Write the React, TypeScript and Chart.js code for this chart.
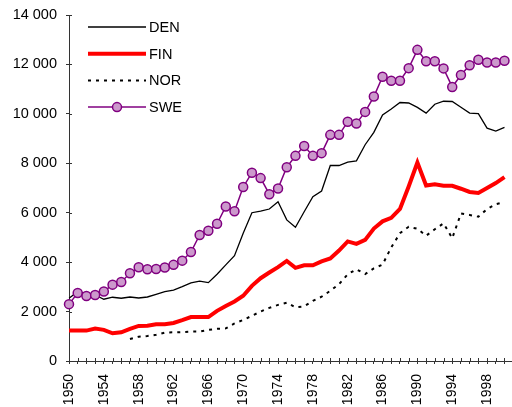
import React, { useEffect, useRef } from 'react';
import { Chart, registerables } from 'chart.js';

Chart.register(...registerables);
Chart.defaults.font.family = '"Liberation Sans", Arial, sans-serif';

const years = [
  '1950', '1951', '1952', '1953', '1954', '1955', '1956', '1957', '1958', '1959',
  '1960', '1961', '1962', '1963', '1964', '1965', '1966', '1967', '1968', '1969',
  '1970', '1971', '1972', '1973', '1974', '1975', '1976', '1977', '1978', '1979',
  '1980', '1981', '1982', '1983', '1984', '1985', '1986', '1987', '1988', '1989',
  '1990', '1991', '1992', '1993', '1994', '1995', '1996', '1997', '1998', '1999',
  '2000', '2001',
];

const DEN = [
  2540, 2800, 2740, 2670, 2500, 2580, 2540, 2590, 2550, 2590,
  2700, 2810, 2870, 3010, 3160, 3230, 3170, 3510, 3890, 4260,
  5170, 6000, 6060, 6150, 6440, 5710, 5410, 6040, 6650, 6880,
  7910, 7910, 8050, 8100, 8750, 9250, 9960, 10200, 10460, 10440,
  10260, 10030, 10390, 10510, 10500, 10270, 10030, 10010, 9420, 9300,
  9450,
];

const FIN = [
  1230, 1230, 1230, 1310, 1260, 1120, 1160, 1300, 1420, 1430,
  1490, 1490, 1540, 1650, 1780, 1780, 1780, 2030, 2230, 2410,
  2640, 3040, 3350, 3580, 3800, 4050, 3770, 3870, 3870, 4030,
  4150, 4470, 4840, 4740, 4900, 5360, 5650, 5790, 6150, 7060,
  8030, 7100, 7150, 7090, 7090, 6970, 6840, 6800, 7000, 7200,
  7440,
];

const NOR = [
  null, null, null, null, null, null, null, 890, 985, 1010,
  1060, 1150, 1160, 1170, 1190, 1190, 1260, 1300, 1320, 1520,
  1660, 1830, 2000, 2150, 2270, 2360, 2170, 2210, 2430, 2600,
  2840, 3110, 3510, 3710, 3520, 3750, 3900, 4600, 5170, 5430,
  5350, 5070, 5330, 5570, 4970, 5970, 5910, 5840, 6150, 6340,
  6430,
];

const SWE = [
  2300, 2750, 2630, 2670, 2810, 3090, 3200, 3550, 3790, 3710,
  3720, 3780, 3890, 4060, 4410, 5100, 5270, 5550, 6250, 6060,
  7040, 7620, 7400, 6750, 6980, 7840, 8300, 8700, 8300, 8410,
  9150, 9150, 9680, 9610, 10080, 10700, 11500, 11340, 11340, 11850,
  12590, 12130, 12130, 11840, 11090, 11570, 11970, 12190, 12080, 12080,
  12150,
];

const seriesNames = ['DEN', 'FIN', 'NOR', 'SWE'];

const AXIS = '#333333';

const fmt = (v: number) => String(v).replace(/\B(?=(\d{3})+(?!\d))/g, ' ');

const crossTicks = {
  id: 'crossTicks',
  afterDraw(chart: any) {
    const ctx = chart.ctx;
    const { left, bottom } = chart.chartArea;
    const xs = chart.scales.x;
    const ys = chart.scales.y;
    ctx.save();
    ctx.strokeStyle = AXIS;
    ctx.lineWidth = 1;
    ctx.beginPath();
    xs.ticks.forEach((_t: any, i: number) => {
      const px = Math.round(xs.getPixelForTick(i)) + 0.5;
      ctx.moveTo(px, bottom);
      ctx.lineTo(px, bottom - 3);
    });
    ys.ticks.forEach((_t: any, i: number) => {
      const py = Math.round(ys.getPixelForTick(i)) + 0.5;
      ctx.moveTo(left, py);
      ctx.lineTo(left + 3, py);
    });
    ctx.stroke();
    ctx.restore();
  },
};

const insideLegend = {
  id: 'insideLegend',
  afterDraw(chart: any) {
    const ctx = chart.ctx;
    const { left, top } = chart.chartArea;
    const x0 = left + 19;
    const x1 = left + 77;
    const tx = left + 80;
    const y0 = top + 12;
    const dy = 26.7;
    chart.data.datasets.forEach((ds: any, i: number) => {
      const y = y0 + i * dy;
      ctx.save();
      ctx.strokeStyle = ds.borderColor;
      ctx.lineWidth = ds.borderWidth;
      ctx.setLineDash(ds.borderDash || []);
      ctx.beginPath();
      ctx.moveTo(x0, y);
      ctx.lineTo(x1, y);
      ctx.stroke();
      if (ds.pointRadius > 0) {
        ctx.setLineDash([]);
        ctx.beginPath();
        ctx.arc((x0 + x1) / 2, y, ds.pointRadius, 0, Math.PI * 2);
        ctx.fillStyle = ds.pointBackgroundColor;
        ctx.fill();
        ctx.lineWidth = ds.pointBorderWidth;
        ctx.strokeStyle = ds.pointBorderColor;
        ctx.stroke();
      }
      ctx.fillStyle = '#000';
      ctx.font = '14.5px "Liberation Sans", Arial, sans-serif';
      ctx.textBaseline = 'middle';
      ctx.textAlign = 'left';
      ctx.fillText(ds.label, tx, y + 1);
      ctx.restore();
    });
  },
};

export default function App() {
  const ref = useRef<HTMLCanvasElement>(null);

  useEffect(() => {
    if (!ref.current) return;
    const chart = new Chart(ref.current, {
      type: 'line',
      data: {
        labels: years,
        datasets: [
          {
            label: seriesNames[0],
            data: DEN,
            borderColor: '#000000',
            backgroundColor: '#000000',
            borderWidth: 1.3,
            pointRadius: 0,
            tension: 0,
            order: 2,
          },
          {
            label: seriesNames[1],
            data: FIN,
            borderColor: '#ff0000',
            backgroundColor: '#ff0000',
            borderWidth: 4,
            pointRadius: 0,
            tension: 0,
            order: 1,
          },
          {
            label: seriesNames[2],
            data: NOR,
            borderColor: '#000000',
            backgroundColor: '#000000',
            borderWidth: 2,
            borderDash: [3, 5],
            pointRadius: 0,
            tension: 0,
            order: 3,
          },
          {
            label: seriesNames[3],
            data: SWE,
            borderColor: '#800080',
            backgroundColor: '#cc99cc',
            borderWidth: 1.5,
            pointRadius: 4.5,
            pointBackgroundColor: '#cc99cc',
            pointBorderColor: '#800080',
            pointBorderWidth: 1.5,
            tension: 0,
            order: 0,
          },
        ] as any,
      },
      options: {
        animation: false,
        responsive: false,
        layout: { padding: { top: 15, right: 21, left: 0, bottom: 0 } },
        plugins: { legend: { display: false }, tooltip: { enabled: false } },
        scales: {
          x: {
            type: 'category',
            offset: false,
            grid: { drawOnChartArea: false, tickLength: 3, color: AXIS },
            border: { color: AXIS },
            ticks: {
              autoSkip: false,
              maxRotation: 90,
              minRotation: 90,
              padding: 10,
              color: '#000',
              font: { size: 14 },
              callback: (_v: any, i: number) => {
                const l = years[i];
                return (Number(l) - 1950) % 4 === 0 ? l : '';
              },
            },
            afterFit: (s: any) => {
              s.height = 46;
            },
          },
          y: {
            min: 0,
            max: 14000,
            grid: { drawOnChartArea: false, tickLength: 3, color: AXIS },
            border: { color: AXIS },
            ticks: {
              stepSize: 2000,
              padding: 9,
              color: '#000',
              font: { size: 14.5 },
              callback: (v: any) => fmt(Number(v)),
            },
            afterFit: (s: any) => {
              s.width = 69;
              s.paddingTop = 0;
              s.paddingBottom = 0;
            },
          },
        },
      } as any,
      plugins: [crossTicks, insideLegend],
    });
    return () => chart.destroy();
  }, []);

  return (
    <div
      style={{
        position: 'fixed',
        left: 0,
        top: 0,
        width: 512,
        height: 407,
        overflow: 'hidden',
        background: '#fff',
      }}
    >
      <canvas ref={ref} width={540} height={407} style={{ display: 'block' }} />
    </div>
  );
}
